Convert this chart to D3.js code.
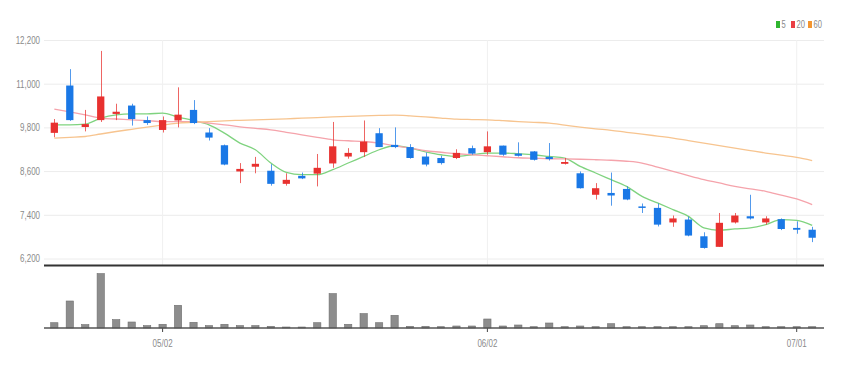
<!DOCTYPE html>
<html>
<head>
<meta charset="utf-8">
<script src="https://cdn.jsdelivr.net/npm/d3@7"></script>
<style>
  body { margin: 0; background: #fff; }
  #chart text { font-family: "Liberation Sans", "DejaVu Sans", sans-serif; }
</style>
</head>
<body>
<div id="chart"></div>
<script>
// trading days
var dates = ["2022-04-21","2022-04-22","2022-04-25","2022-04-26","2022-04-27","2022-04-28","2022-04-29",
    "2022-05-02","2022-05-03","2022-05-04","2022-05-06","2022-05-09","2022-05-10","2022-05-11","2022-05-12","2022-05-13",
    "2022-05-16","2022-05-17","2022-05-18","2022-05-19","2022-05-20","2022-05-23","2022-05-24","2022-05-25","2022-05-26","2022-05-27",
    "2022-05-30","2022-05-31","2022-06-02","2022-06-03","2022-06-07","2022-06-08","2022-06-09","2022-06-10",
    "2022-06-13","2022-06-14","2022-06-15","2022-06-16","2022-06-17","2022-06-20","2022-06-21","2022-06-22","2022-06-23","2022-06-24",
    "2022-06-27","2022-06-28","2022-06-29","2022-06-30","2022-07-01","2022-07-04"];

var open = [9650,10950,9810,10000,10170,10400,10000,9730,9990,10280,9660,9310,8590,8720,8610,8250,8470,8530,8810,9000,
    9120,9640,9320,9260,9000,8960,8960,9230,9120,9300,9080,9140,8990,8800,8540,7950,8000,8110,7630,7590,
    7190,7270,6810,6520,7190,7360,7190,7280,7040,6990];
var high = [10030,11400,10280,11900,10450,10450,10100,10100,10900,10550,9780,9330,8820,8990,8790,8540,8560,9070,9950,9230,
    9990,9780,9800,9340,9110,9020,9200,9300,9690,9300,9390,9150,9370,8960,8590,8270,8560,8180,7710,7710,
    7380,7350,6920,7450,7450,7950,7360,7300,7220,7070];
var low = [9530,9980,9690,9950,10000,9850,9870,9660,9800,9890,9440,8760,8270,8540,8200,8200,8380,8180,8690,8940,
    8990,9260,9230,8940,8730,8780,8930,9050,9050,9020,9000,8890,8890,8780,8120,7820,7650,7800,7450,7080,
    7070,6810,6470,6520,7160,7270,7130,6980,6880,6650];
var close = [9930,10000,9890,10650,10230,10030,9920,10000,10150,9920,9520,8780,8660,8800,8250,8360,8400,8690,9280,9100,
    9410,9260,9260,8960,8780,8820,9100,9080,9280,9050,9020,8910,8930,8850,8130,8130,7930,7820,7600,7130,
    7300,6830,6490,7180,7380,7300,7300,7010,6990,6770];
var volume = [530000,2700000,340000,5440000,840000,600000,240000,370000,2270000,570000,240000,370000,240000,240000,170000,100000,100000,530000,3440000,370000,
    1440000,530000,1270000,170000,170000,130000,200000,200000,900000,200000,300000,130000,500000,130000,200000,130000,430000,130000,130000,130000,
    130000,130000,230000,430000,230000,300000,130000,130000,130000,130000];

// moving averages as drawn
var ma5 = [9870,9870,9890,10055,10145,10172,10172,10192,10082,9989,9871,9644,9370,9186,8822,8564,8501,8501,8638,8822,
    9002,9186,9296,9233,9131,9049,9002,9049,9096,9096,9076,9049,9002,8959,8728,8548,8364,8180,7906,7725,
    7542,7358,7041,6975,7013,7041,7131,7268,7249,7112];
var ma20 = [10301,10227,10145,10055,10030,10008,9986,9961,9961,9961,9918,9871,9816,9775,9734,9665,9597,9528,9460,9433,
    9413,9370,9296,9233,9159,9118,9076,9049,9022,8994,8967,8953,8939,8934,8926,8912,8898,8871,8822,8707,
    8592,8474,8364,8274,8180,8112,8044,7939,7835,7679];
var ma60 = [9507,9528,9550,9619,9687,9748,9808,9863,9918,9940,9961,9981,9994,10008,10022,10035,10055,10071,10088,10104,
    10118,10129,10137,10118,10090,10057,10027,10016,10008,9986,9961,9940,9918,9863,9808,9761,9720,9666,9616,9562,
    9507,9438,9370,9301,9233,9164,9096,9036,8975,8890];

var yTicks = [6200, 7400, 8600, 9800, 11000, 12200];
var tickDates = ["2022-05-02", "2022-06-02", "2022-07-01"];
var maNames = ["5", "20", "60"];

var width = 841, height = 369;
var left = 44, right = 824;
var priceTop = 40, priceBottom = 258.5;
var volTop = 272, volBottom = 328;
var squeeze = 0.76; // labels in the original use a narrow face

var upColor = "#e8312f", downColor = "#1a78e6";
var maColors = ["#7fd37f", "#f5a3ab", "#f7c48f"];
var legendColors = ["#2fb52f", "#ea3f43", "#f3952f"];

var parse = d3.timeParse("%Y-%m-%d");
var fmt = d3.timeFormat("%m/%d");

var svg = d3.select("#chart")
    .append("svg")
    .attr("width", width)
    .attr("height", height);

var x = d3.scaleBand().domain(dates).range([42.5, right]).padding(0.53);
var y = d3.scaleLinear().domain([6200, 12200]).range([priceBottom, priceTop]);
var yVol = d3.scaleLinear().domain([0, 5600000]).range([volBottom, volTop]);

function cx(d) { return x(d) + x.bandwidth() / 2; }

// y axis + grid
var yAxis = d3.axisLeft(y)
    .tickValues(yTicks)
    .tickFormat(d3.format(","))
    .tickSize(-(right - left))
    .tickPadding(4);

var yg = svg.append("g")
    .attr("transform", "translate(" + left + ",0)")
    .call(yAxis);
yg.select(".domain").remove();
yg.selectAll("line").attr("stroke", "#ececec");
yg.selectAll("text")
    .attr("fill", "#8a8a8a")
    .attr("x", -4 / squeeze)
    .attr("transform", "scale(" + squeeze + ",1)")
    .style("font-size", "10.5px");

// vertical grid at labelled dates
svg.append("g").selectAll("line")
    .data(tickDates)
    .enter().append("line")
    .attr("x1", function(d) { return cx(d); })
    .attr("x2", function(d) { return cx(d); })
    .attr("y1", priceTop)
    .attr("y2", 265)
    .attr("stroke", "#f0f0f0");

// moving averages
var maSeries = [ma5, ma20, ma60];
var line = d3.line()
    .x(function(d, i) { return cx(dates[i]); })
    .y(function(d) { return y(d); })
    .curve(d3.curveMonotoneX);

svg.append("g").selectAll("path")
    .data(maSeries)
    .enter().append("path")
    .attr("d", line)
    .attr("fill", "none")
    .attr("stroke", function(d, i) { return maColors[i]; })
    .attr("stroke-width", 1.3);

// candles
var candles = svg.append("g").selectAll("g")
    .data(dates)
    .enter().append("g");

candles.append("line")
    .attr("x1", function(d) { return Math.round(cx(d)) + 0.5; })
    .attr("x2", function(d) { return Math.round(cx(d)) + 0.5; })
    .attr("y1", function(d, i) { return y(high[i]); })
    .attr("y2", function(d, i) { return y(low[i]); })
    .attr("stroke", function(d, i) { return close[i] >= open[i] ? upColor : downColor; })
    .attr("stroke-opacity", 0.75);

candles.append("rect")
    .attr("x", function(d) { return x(d); })
    .attr("width", x.bandwidth())
    .attr("y", function(d, i) { return y(Math.max(open[i], close[i])); })
    .attr("height", function(d, i) { return Math.max(1.5, Math.abs(y(open[i]) - y(close[i]))); })
    .attr("fill", function(d, i) { return close[i] >= open[i] ? upColor : downColor; });

// separator between panes
svg.append("line")
    .attr("x1", left).attr("x2", right)
    .attr("y1", 265.5).attr("y2", 265.5)
    .attr("stroke", "#333")
    .attr("stroke-width", 2);

// volume bars
svg.append("g").selectAll("rect")
    .data(dates)
    .enter().append("rect")
    .attr("x", function(d) { return x(d); })
    .attr("width", x.bandwidth())
    .attr("y", function(d, i) { return yVol(volume[i]); })
    .attr("height", function(d, i) { return volBottom - yVol(volume[i]); })
    .attr("fill", "#8d8d8d")
    .attr("stroke", "#6f6f6f")
    .attr("stroke-width", 0.6);

// x axis
var xAxis = d3.axisBottom(x)
    .tickValues(tickDates)
    .tickFormat(function(d) { return fmt(parse(d)); })
    .tickSize(4)
    .tickPadding(8);

var xg = svg.append("g")
    .attr("transform", "translate(0," + volBottom + ")")
    .call(xAxis);
xg.select(".domain").remove();
xg.selectAll("line").attr("stroke", "#444");
xg.selectAll("text")
    .attr("fill", "#8a8a8a")
    .attr("transform", "scale(" + squeeze + ",1)")
    .style("font-size", "10.5px");

svg.append("line")
    .attr("x1", left).attr("x2", right)
    .attr("y1", volBottom).attr("y2", volBottom)
    .attr("stroke", "#555")
    .attr("stroke-width", 1.5);

// legend
var legend = svg.append("g").attr("transform", "translate(776,21)");
var lx = [0, 15, 32];
var items = legend.selectAll("g")
    .data(maNames)
    .enter().append("g")
    .attr("transform", function(d, i) { return "translate(" + lx[i] + ",0)"; });
items.append("rect")
    .attr("width", 4).attr("height", 7)
    .attr("fill", function(d, i) { return legendColors[i]; });
items.append("text")
    .attr("x", 5.5 / squeeze).attr("y", 7)
    .attr("transform", "scale(" + squeeze + ",1)")
    .attr("fill", "#8a8a8a")
    .style("font-size", "10px")
    .text(function(d) { return d; });
</script>
</body>
</html>
